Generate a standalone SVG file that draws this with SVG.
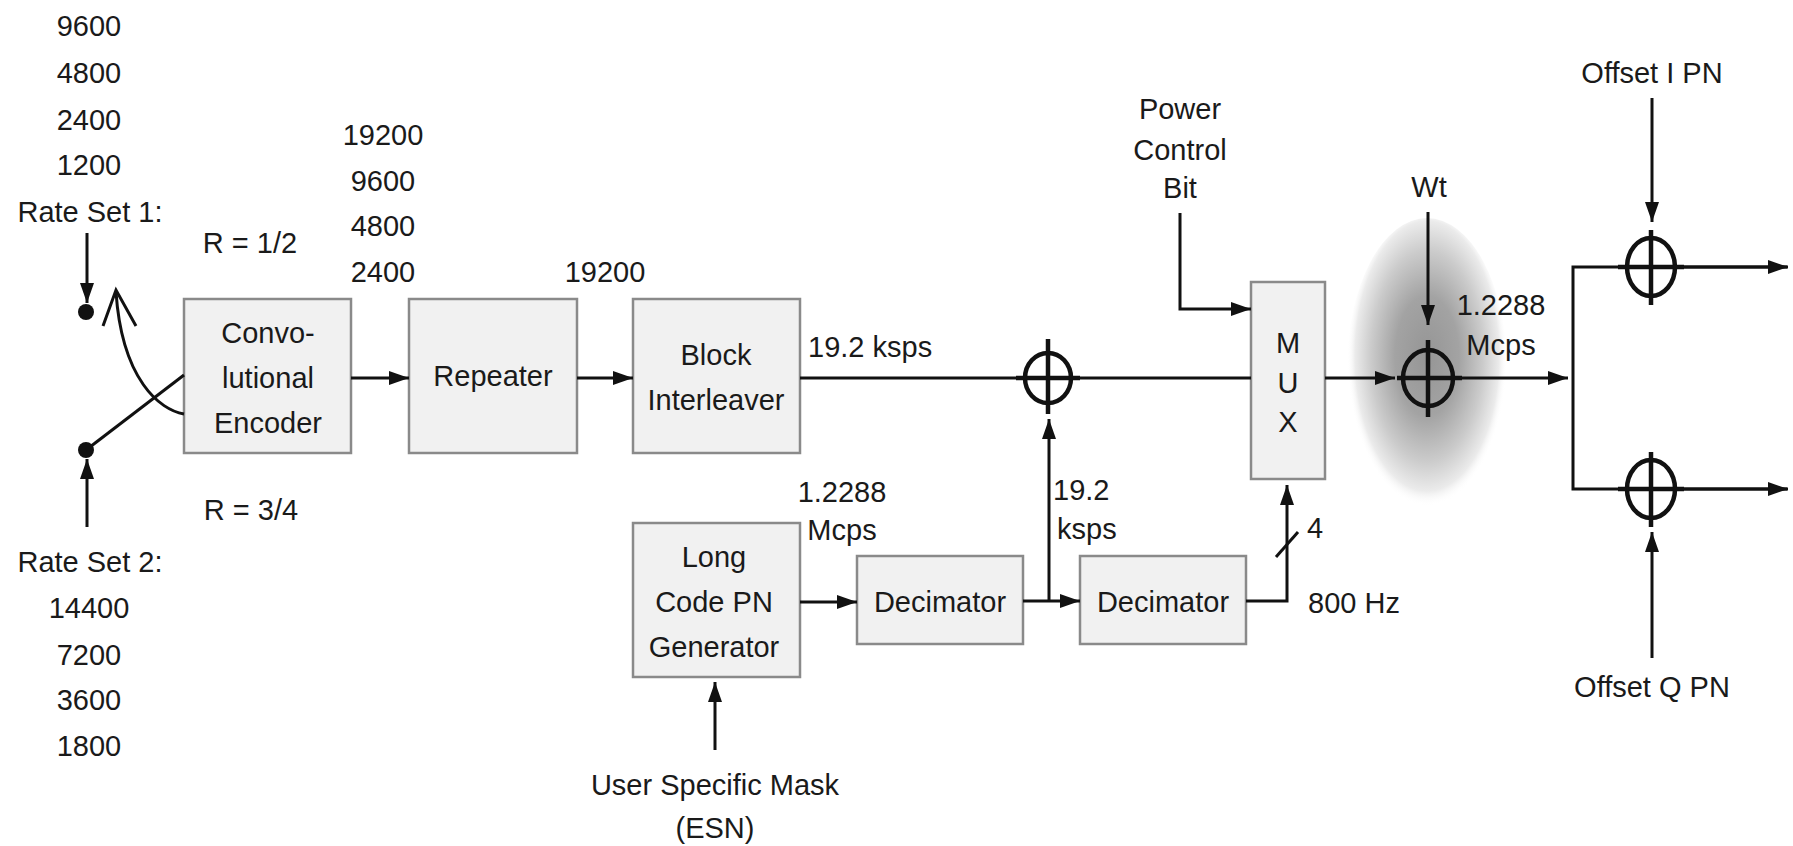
<svg xmlns="http://www.w3.org/2000/svg" width="1793" height="846" viewBox="0 0 1793 846">
<style>
text{font-family:"Liberation Sans",Arial,sans-serif;font-size:29px;fill:#1a1a1a;}
.c{text-anchor:middle;}
.box{fill:#f1f1f1;stroke:#8a8a8a;stroke-width:2.5;}
.ln{fill:none;stroke:#111;stroke-width:3;}
.arr{marker-end:url(#ah);}
.xo{fill:none;stroke:#111;stroke-width:4.5;}
</style>
<defs>
<marker id="ah" markerUnits="userSpaceOnUse" markerWidth="21" markerHeight="14" refX="20" refY="7" orient="auto">
<path d="M0,0 L20,7 L0,14 z" fill="#111"/>
</marker>
<radialGradient id="glow" cx="50%" cy="46%" r="50%">
<stop offset="0" stop-color="#959595"/>
<stop offset="0.4" stop-color="#a3a3a3"/>
<stop offset="0.7" stop-color="#cbcbcb"/>
<stop offset="0.9" stop-color="#ebebeb"/>
<stop offset="1" stop-color="#fff" stop-opacity="0"/>
</radialGradient>
</defs>
<rect width="1793" height="846" fill="#fff"/>
<ellipse cx="1427" cy="368" rx="80" ry="150" fill="url(#glow)"/>

<g id="rate-labels">
<text class="c" x="89" y="36">9600</text>
<text class="c" x="89" y="83">4800</text>
<text class="c" x="89" y="130">2400</text>
<text class="c" x="89" y="175">1200</text>
<text class="c" x="90" y="222">Rate Set 1:</text>
<text class="c" x="90" y="572">Rate Set 2:</text>
<text class="c" x="89" y="618">14400</text>
<text class="c" x="89" y="665">7200</text>
<text class="c" x="89" y="710">3600</text>
<text class="c" x="89" y="756">1800</text>
<text class="c" x="250" y="253">R = 1/2</text>
<text class="c" x="251" y="520">R = 3/4</text>
<text class="c" x="383" y="145">19200</text>
<text class="c" x="383" y="191">9600</text>
<text class="c" x="383" y="236">4800</text>
<text class="c" x="383" y="282">2400</text>
<text class="c" x="605" y="282">19200</text>
<text x="808" y="357">19.2 ksps</text>
<text class="c" x="842" y="502">1.2288</text>
<text class="c" x="842" y="540">Mcps</text>
<text x="1053" y="500">19.2</text>
<text x="1057" y="539">ksps</text>
<text x="1307" y="538">4</text>
<text x="1308" y="613">800 Hz</text>
<text class="c" x="1501" y="315">1.2288</text>
<text class="c" x="1501" y="355">Mcps</text>
</g>

<g id="switch">
<circle cx="86" cy="312" r="8" fill="#111"/>
<circle cx="86" cy="450" r="8" fill="#111"/>
</g>

<g id="convo"><rect class="box" x="184" y="299" width="167" height="154"/>
<text class="c" x="268" y="343">Convo-</text><text class="c" x="268" y="388">lutional</text><text class="c" x="268" y="433">Encoder</text></g>
<g id="repeater"><rect class="box" x="409" y="299" width="168" height="154"/>
<text class="c" x="493" y="386">Repeater</text></g>
<g id="interleaver"><rect class="box" x="633" y="299" width="167" height="154"/>
<text class="c" x="716" y="365">Block</text><text class="c" x="716" y="410">Interleaver</text></g>
<g id="longcode"><rect class="box" x="633" y="523" width="167" height="154"/>
<text class="c" x="714" y="567">Long</text><text class="c" x="714" y="612">Code PN</text><text class="c" x="714" y="657">Generator</text></g>
<g id="decimator1"><rect class="box" x="857" y="556" width="166" height="88"/>
<text class="c" x="940" y="612">Decimator</text></g>
<g id="decimator2"><rect class="box" x="1080" y="556" width="166" height="88"/>
<text class="c" x="1163" y="612">Decimator</text></g>
<g id="mux"><rect class="box" x="1251" y="282" width="74" height="197"/>
<text class="c" x="1288" y="353">M</text><text class="c" x="1288" y="393">U</text><text class="c" x="1288" y="432">X</text></g>
<g id="power-control"><text class="c" x="1180" y="119">Power</text><text class="c" x="1180" y="160">Control</text><text class="c" x="1180" y="198">Bit</text></g>
<g id="wt"><text class="c" x="1429" y="197">Wt</text></g>
<g id="offset-i"><text class="c" x="1652" y="83">Offset I PN</text></g>
<g id="offset-q"><text class="c" x="1652" y="697">Offset Q PN</text></g>
<g id="mask"><text class="c" x="715" y="795">User Specific Mask</text><text class="c" x="715" y="838">(ESN)</text></g>

<g id="xor1"><ellipse class="xo" cx="1048" cy="378" rx="23" ry="25"/><path class="xo" d="M1048,339 V414 M1016,378 H1080"/></g>
<g id="xor2"><ellipse class="xo" cx="1428" cy="378" rx="25" ry="28"/><path class="xo" d="M1428,340 V417 M1397,378 H1462"/></g>
<g id="xorI"><ellipse class="xo" cx="1651" cy="267" rx="24" ry="29"/><path class="xo" d="M1651,230 V305 M1618,267 H1684"/></g>
<g id="xorQ"><ellipse class="xo" cx="1651" cy="489" rx="24" ry="29"/><path class="xo" d="M1651,452 V527 M1618,489 H1684"/></g>

<g id="connectors">
<path class="ln arr" d="M87,233 V303"/>
<path class="ln arr" d="M87,527 V459"/>
<path class="ln" d="M86,450 L184,375"/>
<path class="ln" d="M184,414 C160,410 122,380 116,292"/>
<path class="ln" d="M103,326 L116,290 L136,326"/>
<path class="ln arr" d="M351,378 H409"/>
<path class="ln arr" d="M577,378 H633"/>
<path class="ln" d="M800,378 H1251"/>
<path class="ln arr" d="M1180,213 V309 H1251"/>
<path class="ln arr" d="M800,602 H857"/>
<path class="ln arr" d="M1023,601 H1080"/>
<path class="ln arr" d="M1049,601 V419"/>
<path class="ln arr" d="M715,750 V682"/>
<path class="ln arr" d="M1246,601 H1287 V485"/>
<path class="ln" d="M1276,557 L1298,532"/>
<path class="ln arr" d="M1325,378 H1395"/>
<path class="ln arr" d="M1428,212 V325"/>
<path class="ln arr" d="M1462,378 H1568"/>
<path class="ln" d="M1787,267 H1573 V489 H1787"/>
<path class="ln arr" d="M1684,267 H1788"/>
<path class="ln arr" d="M1684,489 H1788"/>
<path class="ln arr" d="M1652,98 V222"/>
<path class="ln arr" d="M1652,658 V532"/>
</g>
</svg>
